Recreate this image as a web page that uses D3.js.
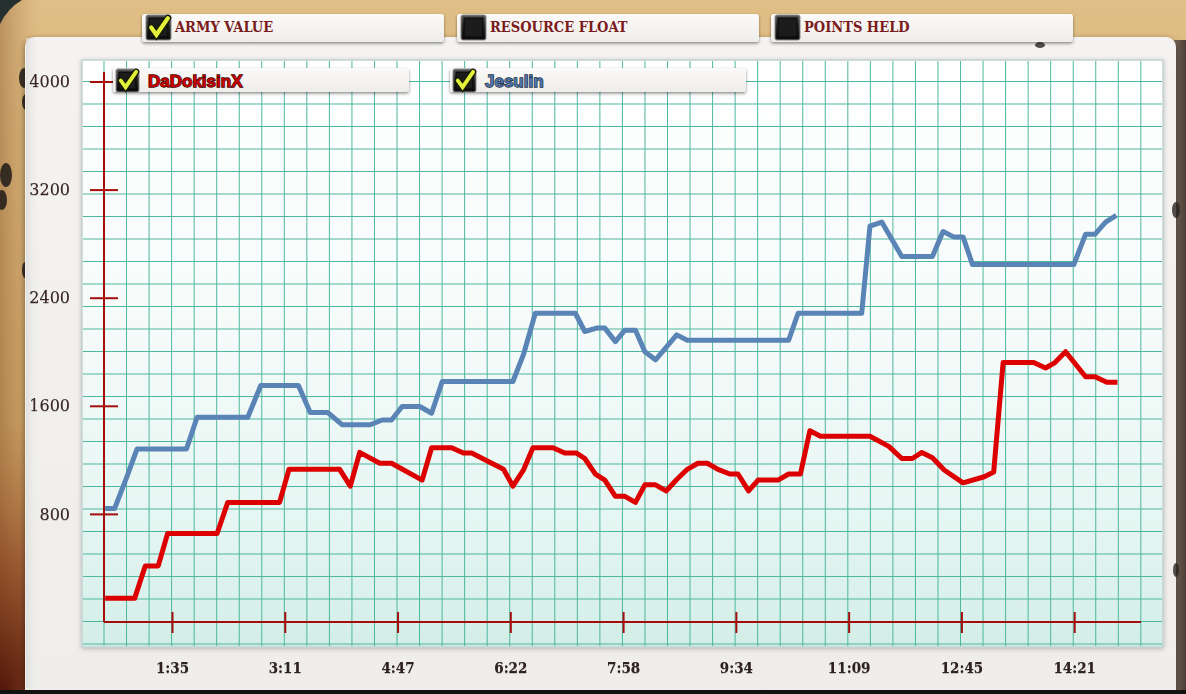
<!DOCTYPE html>
<html>
<head>
<meta charset="utf-8">
<script src="https://cdn.jsdelivr.net/npm/d3@7/dist/d3.min.js"></script>
<style>
  html, body { margin: 0; padding: 0; background: #d8b47a; }
  svg { display: block; }
</style>
</head>
<body>
<svg id="chart" width="1186" height="694"></svg>
<script>
// ---------------- DATA ----------------
const metricNames = ["ARMY VALUE", "RESOURCE FLOAT", "POINTS HELD"];
const metricChecked = [true, false, false];
const playerNames = ["DaDokisinX", "Jesulin"];
const playerColors = ["#dc0000", "#5a84b6"];
const playerTextColors = ["#c80000", "#4d74a8"];

const yTickValues = [800, 1600, 2400, 3200, 4000];
const xTickSeconds = [95.7, 191.4, 287.1, 382.8, 478.5, 574.2, 669.9, 765.6, 861.3];
const xTickLabels = ["1:35", "3:11", "4:47", "6:22", "7:58", "9:34", "11:09", "12:45", "14:21"];

// DaDokisinX (red) army value: time (s), value
const dadokisinxTimes = [39, 64, 73, 84, 92, 134, 143, 187, 195, 238, 247, 255, 272, 282, 308, 316, 333, 343, 350, 377,
  385, 394, 402, 419, 429, 439, 446, 455, 463, 472, 480, 489, 497, 506, 515, 524, 533, 542, 550, 559,
  569, 576, 585, 593, 610, 619, 629, 637, 646, 688, 704, 715, 724, 732, 741, 751, 767, 785, 793, 801,
  827, 837, 845, 854, 871, 879, 889, 898];
const dadokisinxValues = [175, 175, 415, 415, 655, 655, 885, 885, 1130, 1130, 1005, 1255, 1175, 1175, 1050, 1290, 1290, 1250, 1250, 1130,
  1005, 1125, 1290, 1290, 1250, 1250, 1210, 1095, 1050, 930, 930, 885, 1015, 1015, 970, 1055, 1130, 1175, 1175, 1130,
  1095, 1095, 970, 1050, 1050, 1095, 1095, 1415, 1375, 1375, 1300, 1210, 1210, 1255, 1215, 1125, 1030, 1075, 1110, 1920,
  1920, 1880, 1920, 2000, 1815, 1815, 1775, 1775];

// Jesulin (blue) army value: time (s), value
const jesulinTimes = [39, 47, 57, 66, 108, 117, 160, 171, 203, 213, 228, 240, 264, 274, 282, 291, 306, 316, 325, 385,
  394, 404, 438, 446, 456, 463, 472, 480, 489, 497, 506, 524, 533, 619, 627, 681, 688, 698, 715, 741,
  750, 759, 767, 775, 861, 871, 879, 888, 897];
const jesulinValues = [840, 840, 1065, 1280, 1280, 1515, 1515, 1750, 1750, 1550, 1550, 1460, 1460, 1495, 1495, 1595, 1595, 1545, 1780, 1780,
  1980, 2285, 2285, 2150, 2175, 2175, 2075, 2160, 2160, 2000, 1940, 2125, 2085, 2085, 2285, 2285, 2930, 2960, 2705, 2705,
  2890, 2850, 2850, 2645, 2645, 2870, 2870, 2960, 3010];

// ---------------- LAYOUT ----------------
const W = 1186, H = 694;
const plot = { left: 104, right: 1141, top: 81.5, bottom: 622 };
const svg = d3.select("#chart");
const defs = svg.append("defs");

function linGrad(id, x1, y1, x2, y2, stops) {
  const g = defs.append("linearGradient").attr("id", id)
    .attr("x1", x1).attr("y1", y1).attr("x2", x2).attr("y2", y2);
  stops.forEach(s => g.append("stop").attr("offset", s[0]).attr("stop-color", s[1]).attr("stop-opacity", s[2] == null ? 1 : s[2]));
}
linGrad("bgGrad", 0, 0, 0, 1, [[0, "#e0bf86"], [0.5, "#d3aa6e"], [1, "#c08e55"]]);
linGrad("leftGrad", 0, 0, 1, 0, [[0, "#8a5a2c", 0.45], [1, "#b88a55", 0]]);
linGrad("paperGrad", 0, 0, 0, 1, [[0, "#f4f3f1"], [1, "#eeedea"]]);
linGrad("paperEdge", 0, 0, 1, 0, [[0, "#dcdcda", 0.8], [1, "#f2f1ee", 0]]);
linGrad("gridGrad", 0, 0, 0, 1, [[0, "#ffffff"], [0.45, "#f6fbfa"], [0.78, "#e6f6f2"], [1, "#d3eee7"]]);
linGrad("tabGrad", 0, 0, 0, 1, [[0, "#fbfaf8"], [1, "#efedea"]]);
linGrad("boxGrad", 0, 0, 0, 1, [[0, "#5a5a5a"], [0.5, "#262626"], [1, "#0e0e0e"]]);
linGrad("rightGrad", 0, 0, 1, 0, [[0, "#7a6a5c"], [1, "#4a3d33"]]);

const rg = defs.append("radialGradient").attr("id", "rustGrad")
  .attr("cx", 0).attr("cy", 1).attr("r", 1);
rg.append("stop").attr("offset", 0).attr("stop-color", "#4a1005").attr("stop-opacity", 0.95);
rg.append("stop").attr("offset", 0.5).attr("stop-color", "#7a2a10").attr("stop-opacity", 0.5);
rg.append("stop").attr("offset", 1).attr("stop-color", "#9a5a2a").attr("stop-opacity", 0);

function shadow(id, dx, dy, sd, op) {
  const f = defs.append("filter").attr("id", id).attr("x", "-10%").attr("y", "-30%").attr("width", "120%").attr("height", "160%");
  f.append("feDropShadow").attr("dx", dx).attr("dy", dy).attr("stdDeviation", sd)
    .attr("flood-color", "#000").attr("flood-opacity", op);
}
shadow("paperShadow", 0, 2, 3, 0.45);
shadow("tabShadow", 0, 1.5, 1.5, 0.45);
shadow("panelShadow", 0, 1, 2, 0.25);
shadow("textShadow", 0, 0.5, 0.6, 0.4);

// ---------------- BACKGROUND ----------------
svg.append("rect").attr("width", W).attr("height", H).attr("fill", "url(#bgGrad)");
svg.append("rect").attr("width", 40).attr("height", H).attr("fill", "url(#leftGrad)");
svg.append("rect").attr("x", 0).attr("y", 420).attr("width", 160).attr("height", 274).attr("fill", "url(#rustGrad)");
svg.append("rect").attr("x", 1174).attr("y", 40).attr("width", 12).attr("height", H - 40).attr("fill", "url(#rightGrad)");
svg.append("path").attr("d", "M0,0 L22,0 Q8,8 0,24 Z").attr("fill", "#26302f");
// dark blotches left of the paper
[[24, 78, 5, 10], [26, 102, 4, 8], [6, 175, 6, 12], [2, 200, 5, 10], [25, 270, 3, 8]].forEach(b => {
  svg.append("ellipse").attr("cx", b[0]).attr("cy", b[1]).attr("rx", b[2]).attr("ry", b[3])
    .attr("fill", "#1e1a16").attr("opacity", 0.85);
});

// paper
svg.append("rect").attr("x", 25).attr("y", 37).attr("width", 1151).attr("height", 700).attr("rx", 10)
  .attr("fill", "url(#paperGrad)").attr("filter", "url(#paperShadow)");
svg.append("rect").attr("x", 26).attr("y", 38).attr("width", 14).attr("height", 650)
  .attr("fill", "url(#paperEdge)");
// burn marks on the paper edge
[[1040, 45, 5, 3], [1176, 210, 4, 8], [1176, 570, 3, 7]].forEach(b => {
  svg.append("ellipse").attr("cx", b[0]).attr("cy", b[1]).attr("rx", b[2]).attr("ry", b[3]).attr("fill", "#2a2420").attr("opacity", 0.8);
});
svg.append("rect").attr("x", 0).attr("y", 690).attr("width", W).attr("height", 4).attr("fill", "#141210");

// ---------------- GRID PANEL ----------------
const panel = { x: 82, y: 60, w: 1081, h: 587 };
svg.append("rect").attr("x", panel.x).attr("y", panel.y).attr("width", panel.w).attr("height", panel.h)
  .attr("fill", "url(#gridGrad)").attr("stroke", "#c4d2cf").attr("stroke-width", 1.5)
  .attr("filter", "url(#panelShadow)");

const cell = 22.54;
const gridG = svg.append("g").attr("stroke", "#45b39a").attr("stroke-width", 1).attr("opacity", 0.95);
const vx = d3.range(-1, 48).map(k => plot.left + k * cell).filter(v => v > panel.x + 1 && v < panel.x + panel.w - 1);
const hy = d3.range(-1, 26).map(k => plot.top + k * 22.5).filter(v => v > panel.y + 1 && v < panel.y + panel.h - 1);
gridG.selectAll("line.v").data(vx).join("line").attr("class", "v")
  .attr("x1", d => d).attr("x2", d => d).attr("y1", panel.y + 1).attr("y2", panel.y + panel.h - 1);
gridG.selectAll("line.h").data(hy).join("line").attr("class", "h")
  .attr("y1", d => d).attr("y2", d => d).attr("x1", panel.x + 1).attr("x2", panel.x + panel.w - 1);

// ---------------- SCALES ----------------
const x = d3.scaleLinear().domain([38, 918]).range([plot.left, plot.right]);
const y = d3.scaleLinear().domain([0, 4000]).range([plot.bottom, plot.top]);

// ---------------- AXES ----------------
const axisColor = "#a50d0d";
const yAxisG = svg.append("g").attr("transform", `translate(${plot.left},0)`)
  .call(d3.axisLeft(y).tickValues(yTickValues).tickSize(14).tickPadding(20).tickFormat(d3.format("d")));
yAxisG.select(".domain").remove();
yAxisG.selectAll(".tick line").attr("x1", 14).attr("x2", -14).attr("stroke", axisColor).attr("stroke-width", 2);
yAxisG.selectAll(".tick text").attr("font-family", "'DejaVu Serif', serif").attr("font-size", 16)
  .attr("fill", "#3a2828").attr("filter", "url(#textShadow)");
svg.append("line").attr("x1", plot.left).attr("x2", plot.left).attr("y1", 72).attr("y2", plot.bottom)
  .attr("stroke", axisColor).attr("stroke-width", 2);

const xAxisG = svg.append("g").attr("transform", `translate(0,${plot.bottom})`)
  .call(d3.axisBottom(x).tickValues(xTickSeconds).tickSize(10).tickPadding(30)
    .tickFormat((d, i) => xTickLabels[i]));
xAxisG.select(".domain").remove();
xAxisG.selectAll(".tick line").attr("y1", -10).attr("y2", 11).attr("stroke", axisColor).attr("stroke-width", 2);
xAxisG.selectAll(".tick text").attr("font-family", "'DejaVu Serif Condensed', 'DejaVu Serif', serif")
  .attr("font-weight", "bold").attr("font-size", 15).attr("fill", "#2e2020").attr("filter", "url(#textShadow)");
svg.append("line").attr("x1", plot.left).attr("x2", plot.right).attr("y1", plot.bottom).attr("y2", plot.bottom)
  .attr("stroke", axisColor).attr("stroke-width", 2);

// ---------------- LINES ----------------
const series = [
  { name: playerNames[0], color: playerColors[0], pts: dadokisinxTimes.map((t, i) => ({ t, v: dadokisinxValues[i] })) },
  { name: playerNames[1], color: playerColors[1], pts: jesulinTimes.map((t, i) => ({ t, v: jesulinValues[i] })) }
];
const line = d3.line().x(d => x(d.t)).y(d => y(d.v));
svg.append("g").selectAll("path").data(series.slice().reverse()).join("path")
  .attr("d", d => line(d.pts)).attr("fill", "none").attr("stroke", d => d.color)
  .attr("stroke-width", 5).attr("stroke-linejoin", "round").attr("stroke-linecap", "butt");

// ---------------- CHECKBOX HELPER ----------------
function checkbox(g, bx, by, size, checked) {
  g.append("rect").attr("x", bx).attr("y", by).attr("width", size).attr("height", size).attr("rx", 2)
    .attr("fill", "url(#boxGrad)").attr("stroke", "#8a8a8a").attr("stroke-width", 1);
  g.append("rect").attr("x", bx + 3).attr("y", by + 3).attr("width", size - 6).attr("height", size - 6)
    .attr("fill", "#1c1c1c").attr("stroke", "#000").attr("stroke-width", 0.8);
  if (checked) {
    const s = size / 24;
    const d = `M${bx + 5 * s},${by + 12 * s} L${bx + 10 * s},${by + 19 * s} L${bx + 21 * s},${by + 3 * s}`;
    g.append("path").attr("d", d).attr("fill", "none").attr("stroke", "#1a1a00").attr("stroke-width", 6.5 * s)
      .attr("stroke-linejoin", "miter").attr("stroke-linecap", "round");
    g.append("path").attr("d", d).attr("fill", "none").attr("stroke", "#e2f03a").attr("stroke-width", 4 * s)
      .attr("stroke-linejoin", "miter").attr("stroke-linecap", "round");
  }
}

// ---------------- METRIC TABS ----------------
const metricTabX = [142, 457, 771];
const tabsG = svg.append("g");
metricNames.forEach((name, i) => {
  const g = tabsG.append("g");
  g.append("rect").attr("x", metricTabX[i]).attr("y", 14).attr("width", 302).attr("height", 28).attr("rx", 3)
    .attr("fill", "url(#tabGrad)").attr("filter", "url(#tabShadow)");
  checkbox(g, metricTabX[i] + 4, 15, 25, metricChecked[i]);
  g.append("text").attr("x", metricTabX[i] + 33).attr("y", 27).attr("dy", "0.36em")
    .attr("font-family", "'DejaVu Serif Condensed', 'DejaVu Serif', serif").attr("font-weight", "bold")
    .attr("font-size", 14.5).attr("fill", "#7a1c1c").text(name);
});

// ---------------- PLAYER TABS ----------------
const playerTabX = [113, 450];
playerNames.forEach((name, i) => {
  const g = svg.append("g");
  g.append("rect").attr("x", playerTabX[i]).attr("y", 68).attr("width", 296).attr("height", 24).attr("rx", 2)
    .attr("fill", "url(#tabGrad)").attr("filter", "url(#tabShadow)");
  checkbox(g, playerTabX[i] + 3, 69, 23, true);
  g.append("text").attr("x", playerTabX[i] + 35).attr("y", 81).attr("dy", "0.36em")
    .attr("font-family", "'Liberation Sans', Arial, sans-serif").attr("font-weight", "bold")
    .attr("font-size", 17).attr("fill", playerTextColors[i])
    .attr("stroke", i === 0 ? "#3a0000" : "#1e2a3a").attr("stroke-width", 1.3).attr("paint-order", "stroke")
    .text(name);
});
</script>
</body>
</html>
